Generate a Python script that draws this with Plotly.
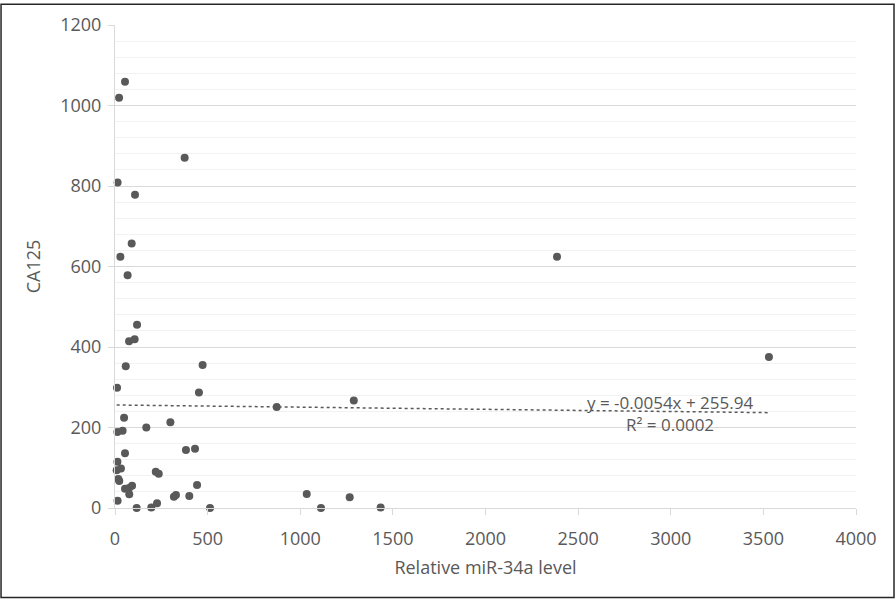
import plotly.graph_objects as go

# Relative miR-34a level (x) and CA125 (y)
mir34a = [54, 22, 376, 14, 108, 90, 29, 68, 2386, 3530,
          119, 76, 106, 58, 473, 11, 453, 873, 1289, 49,
          13, 41, 169, 299, 54, 13, 9, 32, 18, 23,
          54, 76, 92, 77, 14, 117, 196, 227, 220, 236,
          383, 432, 318, 329, 401, 443, 513, 1035, 1112, 1267, 1434]
ca125 = [1059, 1019, 870, 809, 778, 657, 624, 578, 624, 375,
         455, 414, 419, 352, 355, 299, 287, 251, 267, 224,
         189, 192, 200, 213, 136, 115, 94, 98, 72, 67,
         48, 50, 55, 34, 18, 0, 1, 12, 90, 85,
         144, 147, 28, 32, 30, 57, 0, 35, 0, 27, 1]

# Linear trendline as printed on the chart
slope = -0.0054
intercept = 255.94
r_squared = 0.0002

x_ticks = [0, 500, 1000, 1500, 2000, 2500, 3000, 3500, 4000]
y_ticks = [0, 200, 400, 600, 800, 1000, 1200]

grey = "#595959"
font_family = "Open Sans, Liberation Sans, sans-serif"

fig = go.Figure()

trend_x = [min(mir34a), max(mir34a)]
trend_y = [slope * v + intercept for v in trend_x]
fig.add_trace(go.Scatter(
    x=trend_x, y=trend_y, mode="lines",
    line=dict(color=grey, width=1.5, dash="dot"),
    hoverinfo="skip", showlegend=False,
))

fig.add_trace(go.Scatter(
    x=mir34a, y=ca125, mode="markers",
    marker=dict(color=grey, size=8),
    cliponaxis=False, showlegend=False,
))

fig.add_annotation(
    x=2995, y=236, xref="x", yref="y",
    text=f"y = {slope}x + {intercept}<br>R² = {r_squared}",
    showarrow=False, align="center",
    font=dict(family=font_family, size=17, color=grey),
)

# outer chart border
fig.add_shape(type="rect", xref="paper", yref="paper",
              x0=-0.1538, x1=1.0513, y0=-0.1852, y1=1.0432,
              line=dict(color="#262626", width=1.5), fillcolor="rgba(0,0,0,0)",
              layer="above")

fig.update_layout(
    width=896, height=601,
    margin=dict(l=115, r=40, t=21, b=93),
    paper_bgcolor="white", plot_bgcolor="white",
    font=dict(family=font_family, size=18, color=grey),
    xaxis=dict(
        range=[0, 4000], tickvals=x_ticks, ticktext=[str(v) for v in x_ticks],
        showgrid=False, zeroline=False,
        showline=True, linecolor="#d9d9d9", linewidth=1,
        ticks="outside", ticklen=6, tickcolor="#d9d9d9",
        ticklabelstandoff=8,
        tickfont=dict(size=18, color=grey),
        title=dict(text="Relative miR-34a level", font=dict(size=18, color=grey), standoff=12),
    ),
    yaxis=dict(
        range=[0, 1200], tickvals=y_ticks, ticktext=[str(v) for v in y_ticks],
        showgrid=True, gridcolor="#d9d9d9", gridwidth=1, zeroline=False,
        showline=True, linecolor="#d9d9d9", linewidth=1,
        ticks="outside", ticklen=6, tickcolor="#d9d9d9",
        ticklabelstandoff=3,
        minor=dict(dtick=40, showgrid=True, gridcolor="#f2f2f2", gridwidth=1),
        tickfont=dict(size=18, color=grey),
        title=dict(text="CA125", font=dict(size=18, color=grey), standoff=14),
    ),
)

fig.write_html("out.html", config={"displayModeBar": False},
               post_script="document.body.style.margin='0';")
